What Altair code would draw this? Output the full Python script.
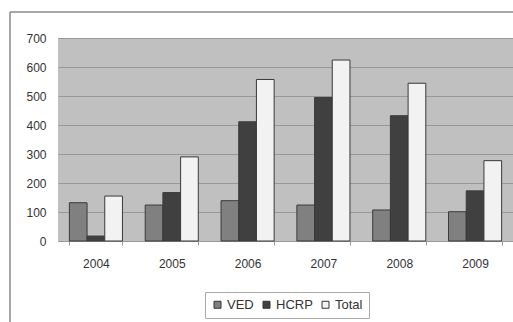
import altair as alt
import pandas as pd

years = ["2004", "2005", "2006", "2007", "2008", "2009"]
series = ["VED", "HCRP", "Total"]
ved = [132, 124, 139, 124, 107, 101]
hcrp = [17, 167, 411, 495, 432, 173]
total = [155, 290, 557, 624, 544, 277]
colors = ["#808080", "#404040", "#f2f2f2"]
y_ticks = [0, 100, 200, 300, 400, 500, 600, 700]

rows = []
for i, yr in enumerate(years):
    for s, vals in zip(series, [ved, hcrp, total]):
        rows.append({"year": yr, "series": s, "value": vals[i]})
df = pd.DataFrame(rows)

FONT = "Liberation Sans"

bars = alt.Chart(df).mark_bar(stroke="#3a3a3a", strokeWidth=1).encode(
    x=alt.X(
        "year:N", sort=years,
        scale=alt.Scale(paddingInner=0.3, paddingOuter=0.15),
        axis=alt.Axis(title=None, labelAngle=0, tickBand="extent", ticks=True,
                      tickSize=4, tickColor="#999999", domainColor="#999999",
                      labelPadding=13, grid=False, labelFontSize=12),
    ),
    xOffset=alt.XOffset("series:N", sort=series,
                        scale=alt.Scale(paddingInner=0, paddingOuter=0)),
    y=alt.Y(
        "value:Q",
        scale=alt.Scale(domain=[0, 700], nice=False),
        axis=alt.Axis(title=None, values=y_ticks, domain=False, ticks=False,
                      labelPadding=12, gridColor="#999999", gridWidth=1,
                      labelFontSize=12),
    ),
    color=alt.Color(
        "series:N", sort=series,
        scale=alt.Scale(domain=series, range=colors),
        legend=alt.Legend(
            title=None, orient="none", direction="horizontal",
            legendX=147, legendY=254,
            symbolType="square", symbolSize=49, symbolStrokeColor="#333333",
            symbolStrokeWidth=1, labelOffset=3, columnPadding=6,
            padding=6, strokeColor="#aaaaaa", fillColor="#ffffff",
            labelFont=FONT, labelFontSize=13, labelColor="#333333",
        ),
    ),
)

frame = alt.Data(values=[{}])
top_edge = alt.Chart(frame).mark_rule(stroke="#8a8a8a", strokeWidth=1.5).encode(
    x=alt.value(-48), x2=alt.value(470), y=alt.value(-26)
)
left_edge = alt.Chart(frame).mark_rule(stroke="#8a8a8a", strokeWidth=1.5).encode(
    x=alt.value(-48), y=alt.value(-26), y2=alt.value(300)
)

chart = alt.layer(bars, top_edge, left_edge).properties(
    width=455, height=203,
    autosize=alt.AutoSizeParams(type="none"),
    padding={"left": 58, "top": 38, "right": 0, "bottom": 81},
    background="#ffffff",
).configure_view(
    fill="#c0c0c0", strokeWidth=0, strokeOpacity=0
).configure_axis(
    labelFont=FONT, labelColor="#333333"
)

chart.save("out.html", embed_options={"renderer": "svg", "actions": False})
